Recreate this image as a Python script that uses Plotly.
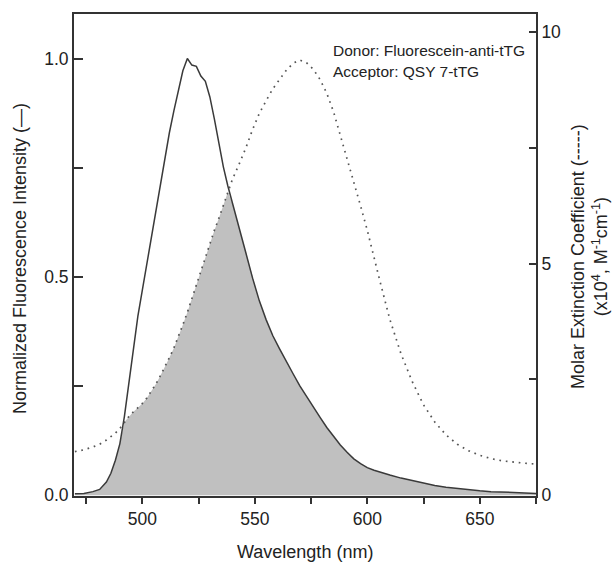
import numpy as np
import plotly.graph_objects as go

# ---------------- data ----------------
wavelength = [470, 474, 478, 481, 484, 486, 488, 490, 492, 494, 496, 498, 500, 502, 504, 506,
              508, 510, 512, 514, 516, 518, 520, 522, 524, 526, 528, 530, 532, 534, 536, 538,
              540, 543, 546, 549, 552, 555, 558, 561, 564, 567, 570, 573, 576, 579, 582, 585,
              588, 591, 594, 597, 600, 603, 606, 610, 615, 620, 625, 630, 635, 640, 645, 650,
              655, 660, 665, 670, 675]

# donor (fluorescein-anti-tTG) normalized emission, left axis
emission = [0.003, 0.004, 0.008, 0.013, 0.030, 0.050, 0.080, 0.118, 0.180, 0.255, 0.335, 0.410,
            0.470, 0.530, 0.590, 0.655, 0.715, 0.772, 0.830, 0.880, 0.930, 0.972, 1.000, 0.985,
            0.982, 0.960, 0.948, 0.912, 0.862, 0.805, 0.752, 0.708, 0.668, 0.612, 0.555, 0.497,
            0.445, 0.402, 0.365, 0.335, 0.305, 0.278, 0.250, 0.225, 0.200, 0.178, 0.155, 0.135,
            0.115, 0.098, 0.083, 0.072, 0.063, 0.057, 0.052, 0.046, 0.039, 0.033, 0.027, 0.022,
            0.018, 0.015, 0.012, 0.010, 0.008, 0.007, 0.006, 0.005, 0.004]

# acceptor (QSY 7-tTG) molar extinction coefficient (x10^4 M^-1 cm^-1), right axis
extinction = [0.94, 0.98, 1.04, 1.10, 1.19, 1.26, 1.34, 1.44, 1.58, 1.70, 1.80, 1.89, 1.98, 2.10,
              2.24, 2.40, 2.58, 2.76, 2.97, 3.18, 3.42, 3.68, 3.95, 4.25, 4.56, 4.86, 5.16, 5.45,
              5.72, 5.98, 6.25, 6.55, 6.82, 7.15, 7.50, 7.90, 8.25, 8.52, 8.78, 8.98, 9.18, 9.33,
              9.40, 9.34, 9.20, 8.98, 8.68, 8.28, 7.78, 7.25, 6.75, 6.25, 5.72, 5.12, 4.55, 3.80,
              3.05, 2.45, 1.95, 1.58, 1.30, 1.10, 0.96, 0.86, 0.79, 0.74, 0.71, 0.69, 0.67]

x_ticks = [500, 550, 600, 650]
y_left_ticks = [0.0, 0.5, 1.0]
y_right_ticks = [0, 5, 10]

# ---------------- axes ranges (kept proportional) ----------------
left_range = [-0.002, 1.102]
scale = 0.10601  # left units per right unit
right_range = [left_range[0] / scale, left_range[1] / scale]

# spectral overlap (region under both curves, in left-axis units)
overlap = np.minimum(np.array(emission), np.array(extinction) * scale)

FONT = "Liberation Sans, Arial, sans-serif"
INK = "#222222"
AX = "#333333"

fig = go.Figure()
fig.add_trace(go.Scatter(x=wavelength, y=overlap, mode="lines", fill="tozeroy",
                         fillcolor="#c0c0c0", line=dict(width=0, color="#c0c0c0"),
                         hoverinfo="skip", showlegend=False))
fig.add_trace(go.Scatter(x=wavelength, y=emission, mode="lines",
                         line=dict(color="#3a3a3a", width=1.5), showlegend=False))
fig.add_trace(go.Scatter(x=wavelength, y=extinction, mode="lines", yaxis="y2",
                         line=dict(color="#555555", width=1.7, dash="1.7px,4.8px"),
                         showlegend=False))

fig.update_layout(
    width=615, height=567,
    margin=dict(l=74, r=79, t=14, b=71),
    paper_bgcolor="white", plot_bgcolor="white",
    font=dict(family=FONT, size=17, color=INK),
    showlegend=False,
    xaxis=dict(range=[469.6, 675], tickvals=x_ticks, ticks="outside", ticklen=6,
               tickwidth=1.5, tickcolor=AX, showline=True, linecolor=AX, linewidth=1.8,
               mirror=True, showgrid=False, zeroline=False,
               tickfont=dict(size=17.5),
               minor=dict(ticks="outside", ticklen=6, tickwidth=1.5, tickcolor=AX,
                          tick0=475, dtick=50, showgrid=False)),
    yaxis=dict(range=left_range, tickvals=y_left_ticks, tickformat=".1f", ticks="inside",
               ticklen=9, tickwidth=1.5, tickcolor=AX, showline=True, linecolor=AX,
               linewidth=1.8, showgrid=False, zeroline=False, tickfont=dict(size=17.5),
               minor=dict(ticks="inside", ticklen=9, tickwidth=1.5, tickcolor=AX,
                          tick0=0.25, dtick=0.5, showgrid=False)),
    yaxis2=dict(range=right_range, tickvals=y_right_ticks, ticks="inside", ticklen=7,
                tickwidth=1.5, tickcolor=AX, showline=True, linecolor=AX, linewidth=1.8,
                overlaying="y", side="right", showgrid=False, zeroline=False,
                tickfont=dict(size=17.5),
                minor=dict(ticks="inside", ticklen=7, tickwidth=1.5, tickcolor=AX,
                           tick0=2.5, dtick=5, showgrid=False)),
)

def px_x(p):
    return (p - 74) / 462.0

def px_y(p):
    return (496 - p) / 482.0

annos = [
    dict(text="Donor: Fluorescein-anti-tTG", x=px_x(331), y=px_y(51), xanchor="left",
         yanchor="middle", font=dict(size=15.5)),
    dict(text="Acceptor: QSY 7-tTG", x=px_x(331), y=px_y(71), xanchor="left",
         yanchor="middle", font=dict(size=15.5)),
    dict(text="Wavelength (nm)", x=px_x(305), y=px_y(552), xanchor="center",
         yanchor="middle", font=dict(size=18)),
    dict(text="Normalized Fluorescence Intensity (\u2014)", x=px_x(20), y=px_y(259),
         xanchor="center", yanchor="middle", textangle=-90, font=dict(size=18)),
    dict(text="Molar Extinction Coefficient (-----)<br>(x10<sup>4</sup>, M<sup>-1</sup>cm<sup>-1</sup>)",
         x=px_x(589), y=px_y(257), xanchor="center", yanchor="middle", textangle=-90,
         font=dict(size=18)),
]
for a in annos:
    fig.add_annotation(xref="paper", yref="paper", showarrow=False, **a)

fig.write_html("out.html", config={"displayModeBar": False},
               post_script="document.body.style.margin='0';document.body.style.padding='0';")
